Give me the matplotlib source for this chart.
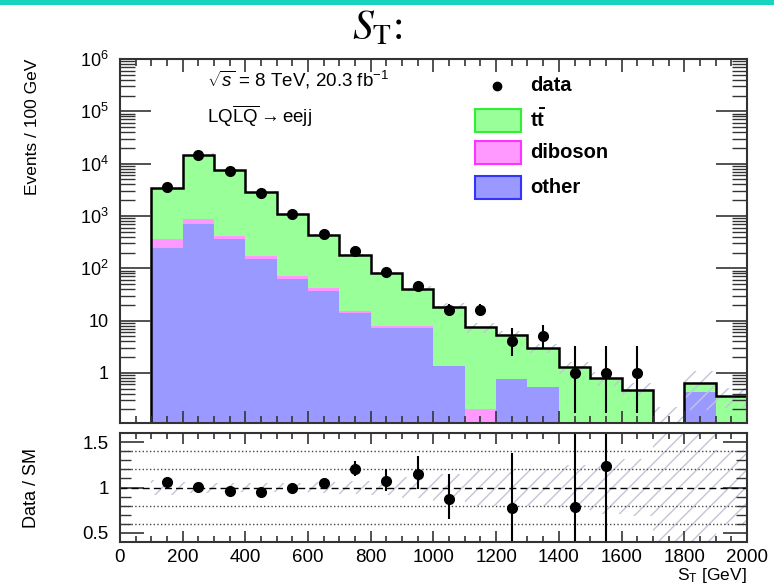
import matplotlib
matplotlib.use("Agg")
import matplotlib.pyplot as plt
import numpy as np
from matplotlib.patches import Rectangle
from matplotlib.ticker import MultipleLocator, FixedLocator, LogLocator, FuncFormatter, NullFormatter

plt.rcParams['font.family'] = ['Liberation Sans', 'DejaVu Sans']
plt.rcParams['mathtext.fontset'] = 'custom'
plt.rcParams['mathtext.rm'] = 'Liberation Sans'
plt.rcParams['mathtext.it'] = 'Liberation Sans:italic'
plt.rcParams['mathtext.bf'] = 'Liberation Sans:bold'
plt.rcParams['hatch.linewidth'] = 1.0

# bins de S_T (GeV)
edges = np.arange(100, 2001, 100)
centers = edges[:-1] + 50

# fondos apilados (eventos / 100 GeV)
other = [247, 690, 362, 150, 62, 37.5, 13.9, 7.2, 7.2, 1.34, 0, 0.77, 0.53, 0, 0, 0, 0, 0.43, 0]
diboson = [115, 180, 56, 21, 8, 4, 1.2, 0.6, 0.7, 0, 0.2, 0, 0, 0, 0, 0, 0, 0, 0]
ttbar = [3018, 14030, 7182, 2709, 1010, 386.5, 162.9, 72.2, 32.1, 17.06, 7.2, 4.43, 2.47, 1.28, 0.81, 0.48, 0, 0.215, 0.36]
# incertidumbre absoluta del fondo total
unc = [270, 900, 380, 145, 55, 26, 12.5, 6.4, 4.8, 2.8, 1.5, 1.0, 0.6, 0.32, 0.24, 0.15, 0.22, 0.45, 0.15]

# datos con errores de Poisson asimetricos
data = [3570, 14950, 7300, 2740, 1080, 447, 215, 86, 46, 16, 16, 4, 5, 1, 1, 1, 0, 0, 0]
err_lo = [60, 122, 85, 52, 33, 21, 14.2, 9.3, 6.8, 3.96, 3.96, 1.91, 2.16, 0.83, 0.83, 0.83, 0, 0, 0]
err_hi = [61, 123, 86, 53, 34, 22, 15.2, 10.3, 7.8, 5.08, 5.08, 3.16, 3.38, 2.30, 2.30, 2.30, 0, 0, 0]

# ticks del panel de cociente
ratio_major = [0.5, 1.0, 1.5]
ratio_minor = [0.6, 0.7, 0.8, 0.9, 1.1, 1.2, 1.3, 1.4]

other = np.array(other)
diboson = np.array(diboson)
ttbar = np.array(ttbar)
unc = np.array(unc)
data = np.array(data, dtype=float)
err_lo = np.array(err_lo)
err_hi = np.array(err_hi)

c_green = '#99ff99'
c_pink = '#ff99ff'
c_blue = '#9999ff'
c_hatch = '#c4c4d8'
c_axis = '#333333'

base = 1e-3
c1 = other
c2 = other + diboson
total = other + diboson + ttbar

fig = plt.figure(figsize=(7.74, 5.88), dpi=100)
ax = fig.add_axes([0.155, 0.2806, 0.81, 0.619])
axr = fig.add_axes([0.155, 0.0782, 0.81, 0.1854])

# franja superior turquesa
fig.add_artist(Rectangle((0, 1 - 5 / 588), 1, 5 / 588, transform=fig.transFigure,
                         facecolor='#17d4bf', lw=0))
fig.text(0.487, 0.951, r'$S_{\mathrm{T}}$:', fontsize=30, ha='center', va='center',
         family='Liberation Serif', math_fontfamily='stix')

# --- panel principal ---
ax.stairs(np.maximum(c1, base), edges, baseline=base, fill=True, color=c_blue, lw=0)
ax.stairs(np.maximum(c2, base), edges, baseline=np.maximum(c1, base), fill=True, color=c_pink, lw=0)
ax.stairs(np.maximum(total, base), edges, baseline=np.maximum(c2, base), fill=True, color=c_green, lw=0)

band_lo = np.maximum(total - unc, base)
band_hi = total + unc
ax.stairs(band_hi, edges, baseline=band_lo, fill=True, facecolor='none',
          edgecolor=c_hatch, hatch='//', lw=0)
ax.stairs(np.maximum(total, base), edges, baseline=base, fill=False, color='k', lw=1.8)

m = data > 0
ax.errorbar(centers[m], data[m], yerr=[err_lo[m], err_hi[m]], fmt='o', color='k',
            ms=7, elinewidth=1.5, capsize=0)

ax.set_yscale('log')
ax.set_xlim(0, 2000)
ax.set_ylim(0.11, 1e6)
ax.xaxis.set_major_locator(MultipleLocator(200))
ax.xaxis.set_minor_locator(MultipleLocator(50))
ax.yaxis.set_major_locator(LogLocator(base=10, numticks=20))
ax.yaxis.set_minor_locator(LogLocator(base=10, subs=np.arange(2, 10), numticks=100))
ax.yaxis.set_minor_formatter(NullFormatter())


def fmt_log(v, pos):
    if v == 1:
        return '1'
    if v == 10:
        return '10'
    return r'$10^{%d}$' % round(np.log10(v))


ax.yaxis.set_major_formatter(FuncFormatter(fmt_log))
ax.tick_params(which='both', direction='in', top=True, right=True, labelbottom=False,
               color=c_axis, labelsize=13, pad=8)
ax.tick_params(axis='x', which='major', length=9, width=1.2)
ax.tick_params(axis='x', which='minor', length=5, width=1.2)
ax.tick_params(axis='y', which='major', length=22, width=1.2)
ax.tick_params(axis='y', which='minor', length=11, width=1.0)
ax.set_ylabel('Events / 100 GeV', loc='top', fontsize=12.5)
ax.yaxis.set_label_coords(-0.128, 1.0)

ax.text(0.139, 0.942, r'$\sqrt{s}$ = 8 TeV, 20.3 fb$^{-1}$', transform=ax.transAxes,
        fontsize=13.5, va='center')
ax.text(0.139, 0.843, r'LQ$\overline{\mathrm{LQ}}$$\rightarrow$eejj', transform=ax.transAxes,
        fontsize=13.5, va='center')

# leyenda manual
leg_names = [r'$\mathbf{t\bar{t}}$', 'diboson', 'other']
leg_faces = [c_green, c_pink, c_blue]
leg_edges = ['#33ee33', '#ff33ff', '#3333ff']
leg_y = [0.832, 0.742, 0.648]
ax.plot([0.601], [0.926], 'o', color='k', ms=6, transform=ax.transAxes, clip_on=False)
ax.text(0.654, 0.926, 'data', transform=ax.transAxes, fontsize=14.5, fontweight='bold', va='center')
for name, fc, ec, yc in zip(leg_names, leg_faces, leg_edges, leg_y):
    ax.add_patch(Rectangle((0.566, yc - 0.0315), 0.0734, 0.063, transform=ax.transAxes,
                           facecolor=fc, edgecolor=ec, lw=1.5))
    ax.text(0.654, yc, name, transform=ax.transAxes, fontsize=14.5, fontweight='bold', va='center')

# --- panel de cociente ---
r_unc = np.where(total > 0, unc / np.where(total > 0, total, 1), 10)
axr.stairs(1 + r_unc, edges, baseline=1 - r_unc, fill=True, facecolor='none',
           edgecolor=c_hatch, hatch='//', lw=0)
for yv in [0.6, 0.8, 1.2, 1.4]:
    axr.axhline(yv, color='#444444', ls=':', lw=1.0)
axr.axhline(1.0, color='k', ls=(0, (5, 3)), lw=1.0)

ok = (data > 0) & (total > 0)
ratio = np.where(ok, data / np.where(total > 0, total, 1), np.nan)
r_lo = err_lo / np.where(total > 0, total, 1)
r_hi = err_hi / np.where(total > 0, total, 1)
show = ok & (ratio > 0.4) & (ratio < 1.6)
axr.errorbar(centers[show], ratio[show], yerr=[r_lo[show], r_hi[show]], fmt='o', color='k',
             ms=7, elinewidth=1.5, capsize=0)

axr.set_xlim(0, 2000)
axr.set_ylim(0.4, 1.6)
axr.xaxis.set_major_locator(MultipleLocator(200))
axr.xaxis.set_minor_locator(MultipleLocator(50))
axr.yaxis.set_major_locator(FixedLocator(ratio_major))
axr.yaxis.set_major_formatter(FuncFormatter(lambda v, p: '%g' % v))
axr.yaxis.set_minor_locator(FixedLocator(ratio_minor))
axr.yaxis.set_minor_formatter(NullFormatter())
axr.tick_params(which='both', direction='in', top=True, right=True, color=c_axis,
                labelsize=13.5, pad=8)
axr.tick_params(axis='x', which='both', pad=5)
axr.tick_params(axis='x', which='major', length=8, width=1.2)
axr.tick_params(axis='x', which='minor', length=4, width=1.2)
axr.tick_params(axis='y', which='major', length=17, width=1.2)
axr.tick_params(axis='y', which='minor', length=8, width=1.0)
axr.set_ylabel('Data / SM', fontsize=13)
axr.yaxis.set_label_coords(-0.128, 0.5)
axr.set_xlabel(r'S$_{\mathrm{T}}$ [GeV]', loc='right', fontsize=12.5, labelpad=0)

for a in (ax, axr):
    for s in a.spines.values():
        s.set_color(c_axis)
        s.set_linewidth(1.5)

fig.savefig('out.png', dpi=100)
